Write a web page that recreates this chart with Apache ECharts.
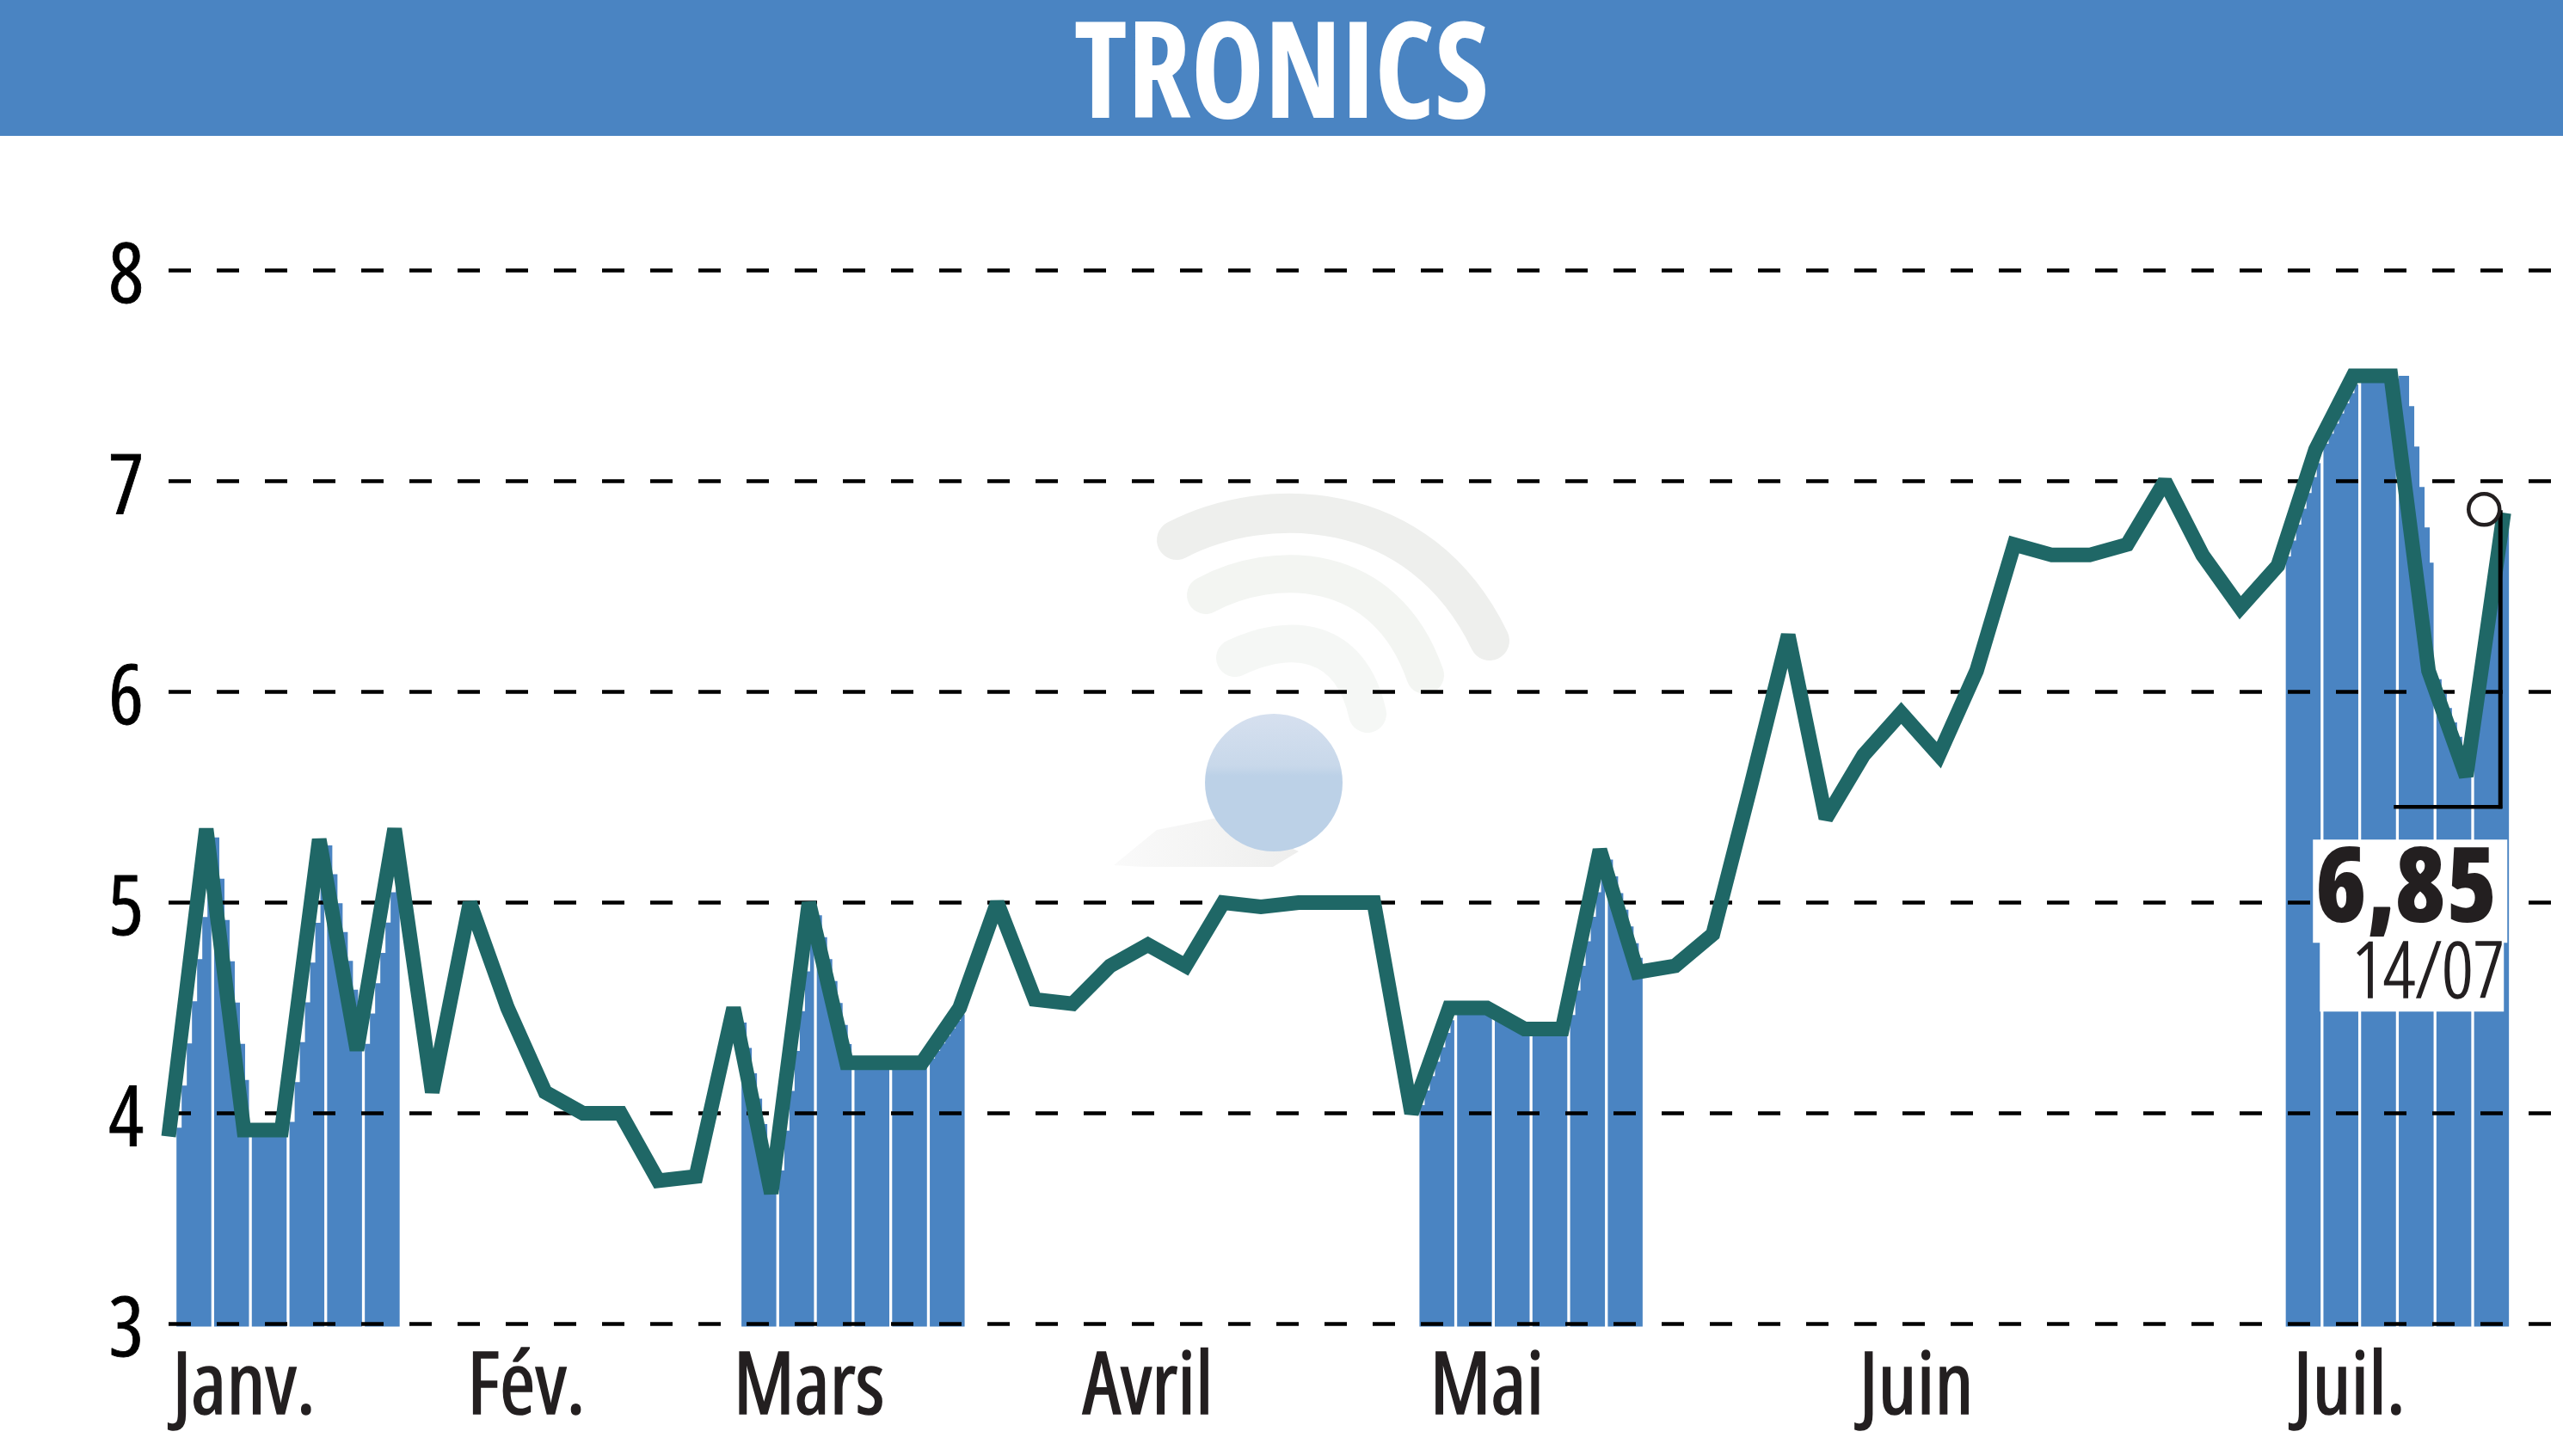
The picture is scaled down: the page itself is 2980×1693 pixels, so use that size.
<!DOCTYPE html>
<html><head><meta charset="utf-8">
<style>html,body{margin:0;padding:0;background:#fff}#c{width:2980px;height:1693px}</style>
<script src="https://cdn.jsdelivr.net/npm/echarts@6/dist/echarts.min.js"></script>
</head><body><div id="c"></div>
<script>
const titleText = 'TRONICS';
const prices = [3.89,5.35,3.92,3.92,5.3,4.3,5.35,4.1,5.0,4.5,4.1,4.0,4.0,3.68,3.7,4.5,3.62,5.0,4.24,4.24,4.24,4.5,5.0,4.54,4.52,4.7,4.8,4.7,5.0,4.98,5.0,5.0,5.0,4.0,4.5,4.5,4.4,4.4,5.25,4.67,4.7,4.85,5.55,6.27,5.4,5.7,5.9,5.7,6.1,6.7,6.65,6.65,6.7,7.0,6.65,6.4,6.6,7.15,7.5,7.5,6.1,5.6,6.85];
const monthLabels = ['Janv.','Fév.','Mars','Avril','Mai','Juin','Juil.'];
const monthPositions = [2.0,9.5,17.0,26.0,35.0,46.4,57.9];
const volumeBandStarts = [0,15,33,56];
const volumeBandShifts = [[.25,.25,.25,.25,.25,.25],[.2,.2,.2,.2,.2,.2],[.2,.2,.2,.2,.2,.2],[.2,.2,.3,.45,.2,.12]];
const lastDate = '14/07';

const BLUE='#4a84c2', TEAL='#1f6766', INK='#231f20', FONT='"Open Sans"';
const BAR_W=40.5, BAR_OFF=0.21, STAIR=6;

function priceAt(t){
  t=Math.max(0,Math.min(prices.length-1,t));
  const i=Math.min(Math.floor(t),prices.length-2), f=t-i;
  return prices[i]+(prices[i+1]-prices[i])*f;
}
const barData=[];
volumeBandStarts.forEach((s,b)=>{for(let k=0;k<6;k++)barData.push([s+k,3,volumeBandShifts[b][k]]);});

function renderBar(params,api){
  const idx=api.value(0), shift=api.value(2);
  const base=api.coord([idx+BAR_OFF,3]);
  const unit=api.coord([idx+1,3])[0]-api.coord([idx,3])[0];
  const x0=base[0], x1=x0+BAR_W, bottom=base[1]+3;
  const pts=[[x0,bottom]];
  for(let x=x0;x<x1;x+=STAIR){
    const nx=Math.min(x+STAIR,x1);
    const t=idx+BAR_OFF+((x+nx)/2-x0)/unit-shift;
    const y=api.coord([idx,priceAt(t)])[1];
    pts.push([x,y],[nx,y]);
  }
  pts.push([x1,bottom]);
  return {type:'polygon',shape:{points:pts},style:{fill:BLUE}};
}
function renderNote(params,api){
  const p=api.coord([api.value(0),api.value(1)]);
  const X=p[0],Y=p[1];
  const label=api.value(1).toFixed(2).replace('.',',');
  return {type:'group',children:[
    {type:'rect',shape:{x:X-222,y:Y+380,width:226,height:120},style:{fill:'#fff'}},
    {type:'rect',shape:{x:X-214,y:Y+490,width:214,height:90},style:{fill:'#fff'}},
    {type:'line',shape:{x1:X-4,y1:Y-3,x2:X-4,y2:Y+344},style:{stroke:'#000',lineWidth:5}},
    {type:'line',shape:{x1:X-128,y1:Y+342,x2:X-2,y2:Y+342},style:{stroke:'#000',lineWidth:4.5}},
    {type:'circle',shape:{cx:X-23,cy:Y-4,r:18},style:{fill:'#fff',stroke:INK,lineWidth:4.5}},
    {type:'text',style:{text:label,x:X-8,y:Y+441,align:'right',verticalAlign:'middle',font:'condensed 800 120px '+FONT,fill:INK}},
    {type:'text',style:{text:lastDate,x:X+1,y:Y+538,align:'right',verticalAlign:'middle',font:'condensed 300 90px '+FONT,fill:INK,stroke:INK,lineWidth:1.5}}
  ]};
}
const chart=echarts.init(document.getElementById('c'),null,{renderer:'canvas',width:2980,height:1693});
chart.setOption({
  animation:false,
  backgroundColor:'#fff',
  grid:{left:196,right:0,top:314.6,bottom:153.5,containLabel:false},
  xAxis:{type:'value',min:0,max:63.57,splitLine:{show:false},axisLine:{show:false},axisTick:{show:false},
    axisLabel:{show:true,customValues:monthPositions,margin:26,color:INK,fontFamily:FONT,fontStyle:'condensed',fontSize:100,
      textBorderColor:INK,textBorderWidth:1.5,hideOverlap:false,formatter:v=>monthLabels[monthPositions.indexOf(v)]||''}},
  yAxis:{type:'value',min:3,max:8,interval:1,z:2,axisLine:{show:false},axisTick:{show:false},
    axisLabel:{margin:29,color:'#000',fontFamily:FONT,fontStyle:'condensed',fontSize:96,verticalAlign:'top',lineHeight:20,textBorderColor:'#000',textBorderWidth:0.8},
    splitLine:{show:true,lineStyle:{color:'#000',width:4.5,type:[26,30]}}},
  graphic:{elements:[
    {type:'rect',z:-1,shape:{x:0,y:0,width:2980,height:158},style:{fill:BLUE}},
    {type:'text',z:0,x:1490,y:93,scaleX:0.925,originX:0,style:{text:titleText,align:'center',verticalAlign:'middle',font:'condensed bold 156px '+FONT,fill:'#fff'}},
    {type:'bezierCurve',z:-1,shape:{x1:1368,y1:628,cpx1:1470,cpy1:575,cpx2:1650,cpy2:575,x2:1732,y2:745},style:{fill:'none',stroke:'#eeefed',lineWidth:46,lineCap:'round'}},
    {type:'bezierCurve',z:-1,shape:{x1:1402,y1:692,cpx1:1480,cpy1:650,cpx2:1610,cpy2:650,x2:1657,y2:785},style:{fill:'none',stroke:'#f3f5f2',lineWidth:44,lineCap:'round'}},
    {type:'bezierCurve',z:-1,shape:{x1:1436,y1:765,cpx1:1500,cpy1:735,cpx2:1570,cpy2:740,x2:1590,y2:830},style:{fill:'none',stroke:'#f5f7f5',lineWidth:44,lineCap:'round'}},
    {type:'polygon',z:-1,shape:{points:[[1295,1006],[1345,965],[1420,950],[1510,990],[1480,1008],[1330,1008]]},style:{fill:{type:'linear',x:0,y:0,x2:1,y2:0,colorStops:[{offset:0,color:'#fafafa'},{offset:1,color:'#eeeeed'}]}}},
    {type:'circle',z:-1,shape:{cx:1481,cy:910,r:80},style:{fill:{type:'linear',x:0,y:0,x2:0,y2:1,colorStops:[{offset:0,color:'#d6e0ef'},{offset:0.38,color:'#c8d8ea'},{offset:0.45,color:'#bcd1e7'},{offset:1,color:'#bcd1e7'}]}}}
  ]},
  series:[
    {type:'custom',name:'Volume',z:1,clip:false,renderItem:renderBar,encode:{x:0,y:1},data:barData,silent:true},
    {type:'line',name:'Cours',z:3,data:prices.map((v,i)=>[i,v]),symbol:'none',silent:true,
      lineStyle:{color:TEAL,width:17,cap:'butt',join:'miter',miterLimit:2}},
    {type:'custom',name:'Dernier',z:4,clip:false,renderItem:renderNote,encode:{x:0,y:1},silent:true,
      data:[[prices.length-1,prices[prices.length-1]]]}
  ]
});
</script></body></html>
